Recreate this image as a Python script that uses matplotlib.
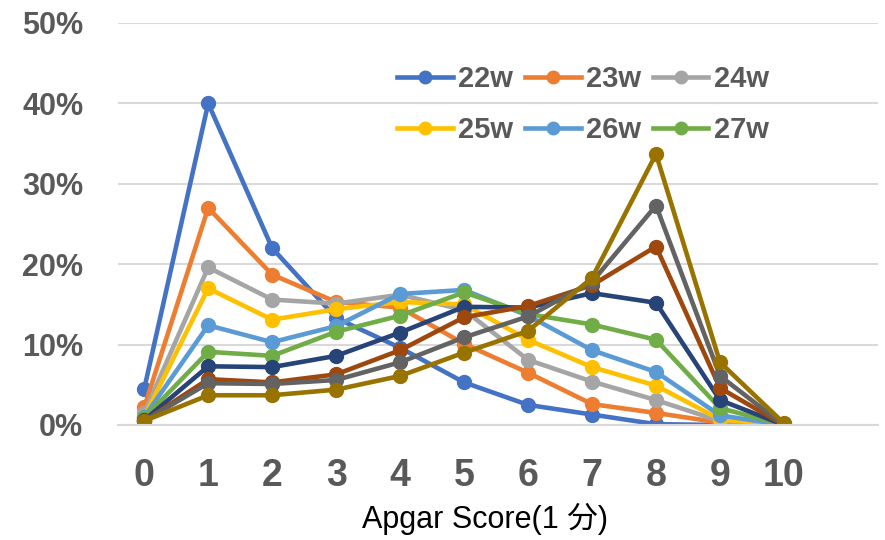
import numpy as np
import matplotlib.pyplot as plt
from matplotlib.ticker import PercentFormatter

# Apgar score (1 min) distribution by gestational week
scores = list(range(11))
weeks = ['22w', '23w', '24w', '25w', '26w', '27w', '28w', '29w', '30w', '31w']
w22 = [4.5, 40.0, 22.0, 13.3, 9.6, 5.3, 2.5, 1.3, 0.1, 0.0, 0.0]
w23 = [2.2, 27.0, 18.7, 15.3, 14.6, 10.1, 6.5, 2.6, 1.5, 0.3, 0.0]
w24 = [1.5, 19.6, 15.6, 15.1, 16.2, 14.3, 8.1, 5.4, 3.1, 0.5, 0.0]
w25 = [1.0, 17.0, 13.1, 14.4, 15.3, 15.0, 10.6, 7.2, 4.9, 0.7, 0.0]
w26 = [1.0, 12.4, 10.3, 12.3, 16.3, 16.8, 13.6, 9.3, 6.6, 1.2, 0.0]
w27 = [0.9, 9.1, 8.6, 11.6, 13.6, 16.5, 13.8, 12.5, 10.6, 2.1, 0.0]
w28 = [0.6, 7.3, 7.2, 8.6, 11.5, 14.7, 14.6, 16.4, 15.2, 3.1, 0.0]
w29 = [0.5, 5.7, 5.3, 6.3, 9.3, 13.4, 14.8, 17.4, 22.2, 4.6, 0.0]
w30 = [0.5, 5.2, 5.1, 5.6, 7.8, 10.9, 13.5, 17.8, 27.3, 6.1, 0.0]
w31 = [0.5, 3.7, 3.7, 4.4, 6.1, 9.0, 11.7, 18.3, 33.7, 7.8, 0.2]
series = [w22, w23, w24, w25, w26, w27, w28, w29, w30, w31]
colors = ['#4472C4', '#ED7D31', '#A5A5A5', '#FFC000', '#5B9BD5',
          '#70AD47', '#264478', '#9E480E', '#636363', '#997300']

fig = plt.figure(figsize=(8.85, 5.4), dpi=100)
ax = fig.add_axes([118 / 885, 1 - 425 / 540, (878 - 118) / 885, (425 - 23) / 540])

lines = []
for name, vals, c in zip(weeks, series, colors):
    ln, = ax.plot(scores, np.array(vals) / 100, color=c, lw=3.3, marker='o',
                  markersize=10, label=name, solid_joinstyle='round')
    lines.append(ln)

ax.set_ylim(0, 0.5)
ax.set_xlim(-0.41, 11.47)
ax.set_xticks(scores)
ax.set_yticks(np.arange(0, 0.51, 0.1))
ax.yaxis.set_major_formatter(PercentFormatter(1.0, decimals=0))
ax.grid(axis='y', color='#D9D9D9', lw=1.5)
ax.set_axisbelow(True)
for s in ['top', 'right', 'left']:
    ax.spines[s].set_visible(False)
ax.spines['bottom'].set_color('#D9D9D9')
ax.spines['bottom'].set_linewidth(1.5)
ax.tick_params(length=0)
ax.tick_params(axis='y', pad=25)
ax.tick_params(axis='x', pad=24)

for t in ax.get_yticklabels():
    t.set_fontfamily(['Liberation Sans', 'DejaVu Sans'])
    t.set_fontweight('bold')
    t.set_fontsize(22)
    t.set_color('#595959')
for t in ax.get_xticklabels():
    t.set_fontfamily(['Liberation Sans Narrow', 'Liberation Sans', 'DejaVu Sans'])
    t.set_fontweight('bold')
    t.set_fontsize(27)
    t.set_color('#595959')

ax.set_xlabel('Apgar Score(1 分)', fontsize=22, color='black',
              family=['Liberation Sans', 'Noto Sans CJK JP'])
ax.xaxis.set_label_coords((485 - 118) / 760, -0.195)

# Excel legend only shows the first six entries, filled row by row
order = [0, 3, 1, 4, 2, 5]
leg = ax.legend(handles=[lines[i] for i in order], ncol=3, loc='upper left',
                bbox_to_anchor=(0.352, 0.925), frameon=False,
                prop={'family': ['Liberation Sans', 'DejaVu Sans'],
                      'weight': 'bold', 'size': 21},
                handlelength=1.9, handletextpad=0.2, columnspacing=0.4,
                labelspacing=0.8, borderaxespad=0)
for t in leg.get_texts():
    t.set_color('#595959')
for h in leg.legend_handles:
    h.set_markersize(9)

fig.savefig('out.png', dpi=100)
